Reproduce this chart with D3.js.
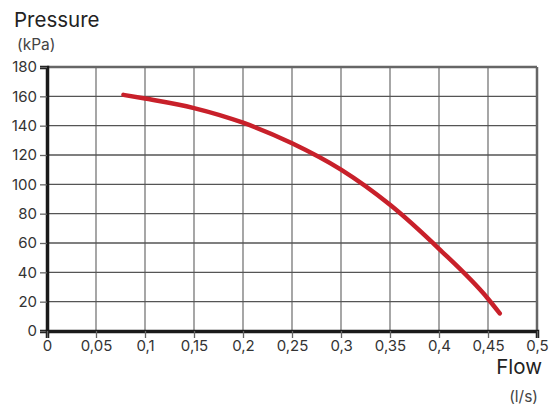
<!DOCTYPE html>
<html>
<head>
<meta charset="utf-8">
<script src="https://cdn.jsdelivr.net/npm/d3@7"></script>
<style>
  body { margin: 0; background: #fff; }
  svg text { font-family: Inter, "Open Sans", sans-serif; fill: #222; }
</style>
</head>
<body>
<div id="chart"></div>
<script>
// pump curve
var flow = [0.078, 0.1, 0.15, 0.2, 0.25, 0.3, 0.35, 0.4, 0.45, 0.462];
var pressure = [161, 158.5, 152, 142, 128, 110, 86, 56, 22, 12];
var xTicks = [0, 0.05, 0.1, 0.15, 0.2, 0.25, 0.3, 0.35, 0.4, 0.45, 0.5];
var yTicks = [0, 20, 40, 60, 80, 100, 120, 140, 160, 180];

var width = 556, height = 405;
var pLeft = 47, pRight = 537, pTop = 67, pBottom = 331;

var svg = d3.select("#chart").append("svg")
    .attr("width", width)
    .attr("height", height);

var x = d3.scaleLinear().domain([0, 0.5]).range([pLeft, pRight]);
var y = d3.scaleLinear().domain([0, 180]).range([pBottom, pTop]);

var fmt = function(d) { return String(d).replace(".", ","); };

// grid
svg.append("g").selectAll("line")
    .data(xTicks.slice(1, -1))
    .enter().append("line")
    .attr("x1", function(d) { return x(d); })
    .attr("x2", function(d) { return x(d); })
    .attr("y1", pTop)
    .attr("y2", pBottom)
    .style("stroke", "#777")
    .style("stroke-width", 1.3);

svg.append("g").selectAll("line")
    .data(yTicks.slice(1, -1))
    .enter().append("line")
    .attr("x1", pLeft)
    .attr("x2", pRight)
    .attr("y1", function(d) { return y(d); })
    .attr("y2", function(d) { return y(d); })
    .style("stroke", "#555")
    .style("stroke-width", 1.3);

// top + right border
svg.append("line").attr("x1", pLeft).attr("x2", pRight).attr("y1", pTop).attr("y2", pTop)
    .style("stroke", "#666").style("stroke-width", 2.5);
svg.append("line").attr("x1", pRight).attr("x2", pRight).attr("y1", pTop).attr("y2", pBottom)
    .style("stroke", "#666").style("stroke-width", 2.5);

// axes
var yAxis = svg.append("g")
    .attr("transform", "translate(" + pLeft + ",0)")
    .call(d3.axisLeft(y).tickValues(yTicks).tickSize(7).tickPadding(3));
var xAxis = svg.append("g")
    .attr("transform", "translate(0," + pBottom + ")")
    .call(d3.axisBottom(x).tickValues(xTicks).tickFormat(fmt).tickSize(7).tickPadding(2));

[yAxis, xAxis].forEach(function(a) {
    a.select(".domain").style("stroke", "#1a1a1a").style("stroke-width", 3.5);
    a.selectAll(".tick line").style("stroke", "#666").style("stroke-width", 1.3);
    a.selectAll(".tick text").style("font-size", "15px").style("fill", "#333");
});

// curve
var pts = flow.map(function(f, i) { return [f, pressure[i]]; });
svg.append("path")
    .datum(pts)
    .attr("d", d3.line()
        .x(function(d) { return x(d[0]); })
        .y(function(d) { return y(d[1]); })
        .curve(d3.curveMonotoneX))
    .style("fill", "none")
    .style("stroke", "#c8202a")
    .style("stroke-width", 4.5)
    .style("stroke-linecap", "round");

// labels
svg.append("text").attr("x", 14).attr("y", 27).text("Pressure").style("font-size", "20.5px");
svg.append("text").attr("x", 17).attr("y", 50).text("(kPa)").style("font-size", "15.5px").style("fill", "#444");
svg.append("text").attr("x", 542).attr("y", 374).attr("text-anchor", "end").text("Flow").style("font-size", "20.5px");
svg.append("text").attr("x", 538).attr("y", 402).attr("text-anchor", "end").text("(l/s)").style("font-size", "15.5px").style("fill", "#444");
</script>
</body>
</html>
